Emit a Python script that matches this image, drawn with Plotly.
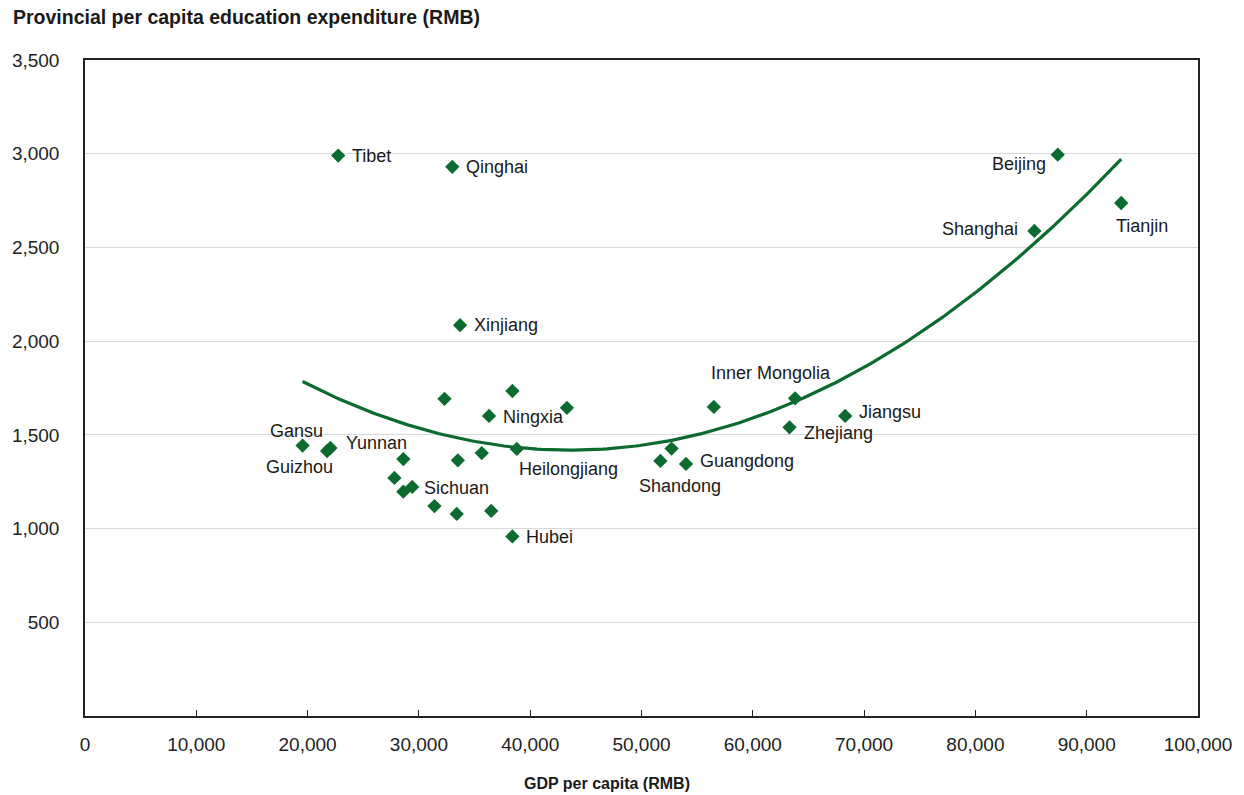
import numpy as np
import plotly.graph_objects as go

# Provinces (blank name = point drawn without a label)
provinces = [
    "Tibet", "Qinghai", "Xinjiang", "Beijing", "Shanghai", "Tianjin",
    "Inner Mongolia", "Jiangsu", "Zhejiang", "", "Guangdong", "Shandong", "",
    "Gansu", "Guizhou", "Yunnan", "", "", "", "Ningxia", "", "", "",
    "Heilongjiang", "", "", "Sichuan", "", "", "", "Hubei",
]
# GDP per capita (RMB)
gdp_per_capita = [
    22750, 33000, 33700, 87400, 85300, 93100,
    63800, 68300, 63300, 56500, 54000, 51700, 52700,
    19550, 21750, 22050, 32300, 38400, 43300, 36300, 28600, 33500, 35650,
    38800, 27800, 28600, 29400, 31400, 33400, 36500, 38400,
]
# Provincial per capita education expenditure (RMB)
edu_expenditure = [
    2990, 2930, 2085, 2995, 2588, 2737,
    1695, 1601, 1540, 1649, 1345, 1361, 1427,
    1443, 1414, 1430, 1692, 1734, 1644, 1601, 1371, 1364, 1403,
    1425, 1270, 1197, 1222, 1120, 1078, 1094, 958,
]

x_ticks = list(range(0, 100001, 10000))
y_ticks = list(range(500, 3501, 500))

GREEN = "#0b6b2e"
FONT = "Liberation Sans, Arial, sans-serif"

# label placement: (xanchor, xshift px, yshift px)
label_pos = {
    "Tibet": ("left", 12, 0),
    "Qinghai": ("left", 12, 0),
    "Xinjiang": ("left", 12, 0),
    "Beijing": ("right", -10, -9),
    "Shanghai": ("right", -14, 2),
    "Tianjin": ("center", 21, -23),
    "Inner Mongolia": ("center", -24, 25),
    "Jiangsu": ("left", 12, 4),
    "Zhejiang": ("left", 12, -6),
    "Guangdong": ("left", 12, 3),
    "Shandong": ("center", 20, -25),
    "Heilongjiang": ("left", 0, -20),
    "Ningxia": ("left", 12, -1),
    "Sichuan": ("left", 10, -1),
    "Hubei": ("left", 12, -1),
    "Gansu": ("center", -6, 15),
    "Guizhou": ("center", -28, -16),
    "Yunnan": ("left", 14, 5),
}

x = np.array(gdp_per_capita, dtype=float)
y = np.array(edu_expenditure, dtype=float)

# quadratic trend line fitted to the provinces
coef = np.polyfit(x, y, 2)
xs = np.linspace(x.min(), x.max(), 200)
ys = np.polyval(coef, xs)

fig = go.Figure()
fig.add_trace(go.Scatter(
    x=xs, y=ys, mode="lines",
    line=dict(color=GREEN, width=3.2),
    hoverinfo="skip", showlegend=False,
))
fig.add_trace(go.Scatter(
    x=x, y=y, mode="markers",
    marker=dict(symbol="diamond", size=11, color=GREEN),
    text=provinces, showlegend=False,
))

annotations = []
for name, gx, ey in zip(provinces, gdp_per_capita, edu_expenditure):
    if not name:
        continue
    anchor, dx, dy = label_pos[name]
    annotations.append(dict(
        x=gx, y=ey, xref="x", yref="y", text=name, showarrow=False,
        xanchor=anchor, yanchor="middle", xshift=dx, yshift=dy,
        font=dict(family=FONT, size=18, color="#1a1a1a"),
    ))

# x-axis title, placed below the tick labels
annotations.append(dict(
    xref="paper", yref="paper",
    x=(607 - 85) / (1244 - 85 - 46),
    y=-(783 - 716) / (795 - 60 - 79),
    text="<b>GDP per capita (RMB)</b>", showarrow=False,
    xanchor="center", yanchor="middle",
    font=dict(family=FONT, size=16, color="#1a1a1a"),
))

fig.update_layout(
    width=1244, height=795,
    margin=dict(l=85, r=46, t=60, b=79),
    paper_bgcolor="white", plot_bgcolor="white",
    font=dict(family=FONT, size=19, color="#222222"),
    title=dict(
        text="<b>Provincial per capita education expenditure (RMB)</b>",
        xref="container", yref="container",
        x=13 / 1244, xanchor="left", y=1 - 17 / 795, yanchor="middle",
        font=dict(family=FONT, size=19.5, color="#1a1a1a"),
    ),
    annotations=annotations,
    xaxis=dict(
        range=[0, 100000], tickvals=x_ticks,
        tickformat=",d", showgrid=False, zeroline=False,
        showline=True, linecolor="#222222", linewidth=2, mirror=True,
        ticks="inside", ticklen=6, tickcolor="#222222", tickwidth=1,
        ticklabelstandoff=10,
        tickfont=dict(family=FONT, size=19, color="#222222"),
    ),
    yaxis=dict(
        range=[0, 3500], tickvals=y_ticks, tickformat=",d",
        showgrid=True, gridcolor="#d9d9d9", gridwidth=1, zeroline=False,
        showline=True, linecolor="#222222", linewidth=1.5, mirror=True,
        ticks="outside", ticklen=20, tickcolor="rgba(0,0,0,0)",
        tickfont=dict(family=FONT, size=19, color="#222222"),
    ),
)

fig.write_html("out.html")
